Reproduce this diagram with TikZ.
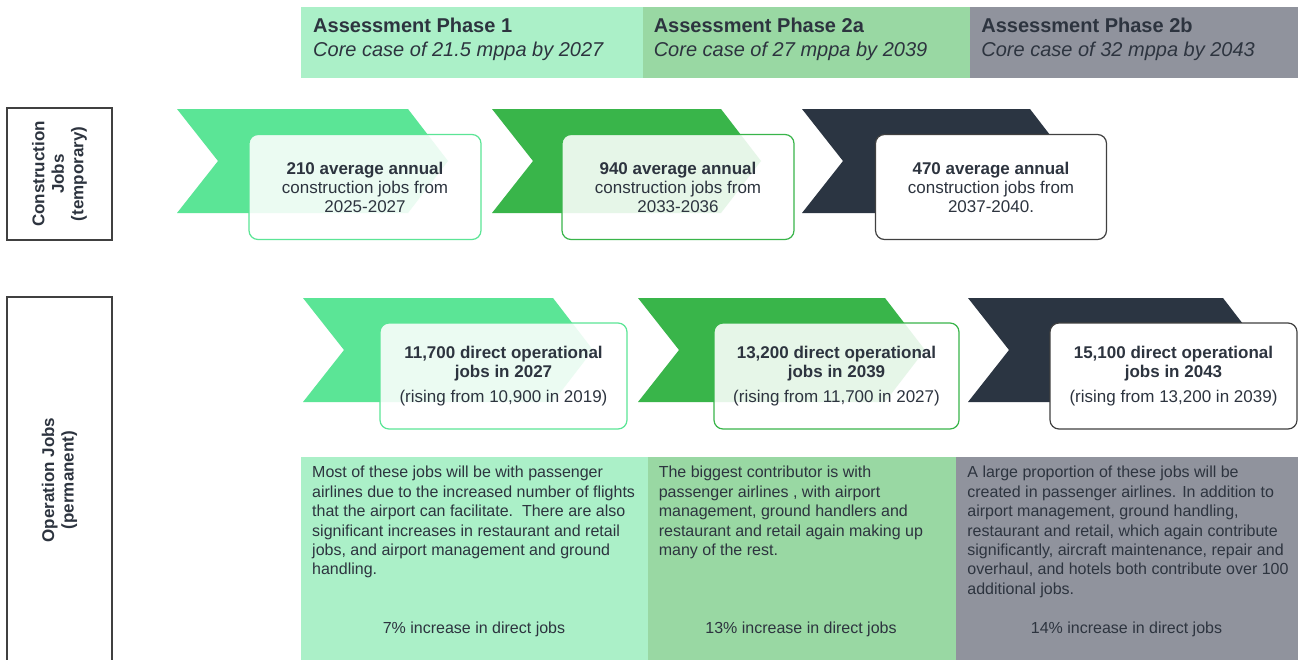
\documentclass[tikz,border=0pt]{standalone}
\usepackage{fontspec}
\setmainfont{Liberation Sans}
\usetikzlibrary{positioning}
\definecolor{phaseone}{RGB}{171,240,200}
\definecolor{phasetwoa}{RGB}{153,216,163}
\definecolor{phasetwob}{RGB}{144,147,157}
\definecolor{chevlight}{RGB}{91,229,150}
\definecolor{chevmid}{RGB}{57,181,74}
\definecolor{chevdark}{RGB}{43,53,66}
\definecolor{inktext}{RGB}{45,52,63}
\begin{document}
\begin{tikzpicture}[x=1pt,y=-1pt]
  \tikzstyle{phase}=[anchor=north west, inner sep=0pt, line width=0.6pt, minimum height=70pt]
  \tikzstyle{phasetext}=[anchor=north west, inner sep=0pt, align=left, text=inktext, font=\fontsize{20}{24}\selectfont]
  \tikzstyle{jobbox}=[draw, rounded corners=9pt, line width=1.2pt, fill=white, align=center, inner sep=0pt, text=inktext, font=\fontsize{17}{19}\selectfont]
  \tikzstyle{seebox}=[jobbox, fill opacity=0.88, text opacity=1]
  \tikzstyle{rowlabel}=[draw=black!75, line width=1.2pt, rotate=90, align=center, inner sep=0pt, minimum height=105pt, text=inktext, font=\bfseries\fontsize{17}{19.5}\selectfont]
  \tikzstyle{panel}=[anchor=north west, inner sep=0pt, line width=0.6pt, minimum height=203pt]
  \tikzstyle{blurb}=[anchor=north west, inner sep=0pt, align=left, text=inktext, font=\fontsize{16}{19.4}\selectfont]
  \tikzstyle{growth}=[anchor=base, inner sep=0pt, text=inktext, font=\fontsize{16}{19}\selectfont]
  \useasboundingbox (0,0) rectangle (1298,659);
  \clip (0,0) rectangle (1298,659);
  \fill[white] (0,0) rectangle (1298,659);

  \node[phase, fill=phaseone, draw=phaseone, minimum width=341pt] (ph1) at (301,7) {};
  \node[phase, fill=phasetwoa, draw=phasetwoa, minimum width=327pt, right=0pt of ph1] (ph2a) {};
  \node[phase, fill=phasetwob, draw=phasetwob, minimum width=329pt, right=0pt of ph2a] (ph2b) {};
  \node[phasetext] (ph1t) at ([shift={(12pt,-10.5pt)}]ph1.north west) {\textbf{Assessment Phase 1}\\\textit{Core case of 21.5 mppa by 2027}};
  \node[phasetext] (ph2at) at ([shift={(11pt,-10.5pt)}]ph2a.north west) {\textbf{Assessment Phase 2a}\\\textit{Core case of 27 mppa by 2039}};
  \node[phasetext] (ph2bt) at ([shift={(11pt,-10.5pt)}]ph2b.north west) {\textbf{Assessment Phase 2b}\\\textit{Core case of 32 mppa by 2043}};

  \node[rowlabel, minimum width=132pt] (conlab) at (59.5,174) {Construction\\Jobs\\(temporary)};
  \node[rowlabel, minimum width=366pt] (oplab) at (59.5,480) {Operation Jobs\\(permanent)};

  \foreach \l/\r/\t/\c in {177/408/109/chevlight, 492/721/109/chevmid, 802/1030/109/chevdark,
                           303/553/298/chevlight, 638/885/298/chevmid, 968/1223/298/chevdark}
    \fill[\c] (\l,\t) -- (\r,\t) -- (\r+40,\t+52) -- (\r,\t+104) -- (\l,\t+104) -- (\l+41,\t+52) -- cycle;

  \node[seebox, draw=chevlight, minimum width=232pt, minimum height=105pt] (con1) at (365,187) {\textbf{210 average annual}\\construction jobs from\\2025-2027};
  \node[seebox, draw=chevmid, minimum width=232pt, minimum height=105pt] (con2a) at (678,187) {\textbf{940 average annual}\\construction jobs from\\2033-2036};
  \node[jobbox, draw=black!75, minimum width=231pt, minimum height=105pt] (con2b) at (991,187) {\textbf{470 average annual}\\construction jobs from\\2037-2040.};

  \node[seebox, draw=chevlight, minimum width=247pt, minimum height=106pt] (op1) at (503.5,376) {\textbf{11,700 direct operational}\\\textbf{jobs in 2027}\\[6pt](rising from 10,900 in 2019)};
  \node[seebox, draw=chevmid, minimum width=245pt, minimum height=106pt] (op2a) at (836.5,376) {\textbf{13,200 direct operational}\\\textbf{jobs in 2039}\\[6pt](rising from 11,700 in 2027)};
  \node[jobbox, draw=black!75, minimum width=247pt, minimum height=106pt] (op2b) at (1173.5,376) {\textbf{15,100 direct operational}\\\textbf{jobs in 2043}\\[6pt](rising from 13,200 in 2039)};

  \node[panel, fill=phaseone, draw=phaseone, minimum width=346pt] (pan1) at (301,457) {};
  \node[panel, fill=phasetwoa, draw=phasetwoa, minimum width=308pt, right=0pt of pan1] (pan2a) {};
  \node[panel, fill=phasetwob, draw=phasetwob, minimum width=343pt, right=0pt of pan2a] (pan2b) {};

  \node[blurb] (txt1) at ([shift={(11pt,-9pt)}]pan1.north west) {Most of these jobs will be with passenger\\airlines due to the increased number of flights\\that the airport can facilitate.\ \ There are also\\significant increases in restaurant and retail\\jobs, and airport management and ground\\handling.};
  \node[blurb] (txt2a) at ([shift={(11pt,-9pt)}]pan2a.north west) {The biggest contributor is with\\passenger airlines , with airport\\management, ground handlers and\\restaurant and retail again making up\\many of the rest.};
  \node[blurb] (txt2b) at ([shift={(11pt,-9pt)}]pan2b.north west) {A large proportion of these jobs will be\\created in passenger airlines. In addition to\\airport management, ground handling,\\restaurant and retail, which again contribute\\significantly, aircraft maintenance, repair and\\overhaul, and hotels both contribute over 100\\additional jobs.};

  \node[growth] (inc1) at (474,633) {7\% increase in direct jobs};
  \node[growth] (inc2a) at (801,633) {13\% increase in direct jobs};
  \node[growth] (inc2b) at (1126.5,633) {14\% increase in direct jobs};
\end{tikzpicture}
\end{document}
